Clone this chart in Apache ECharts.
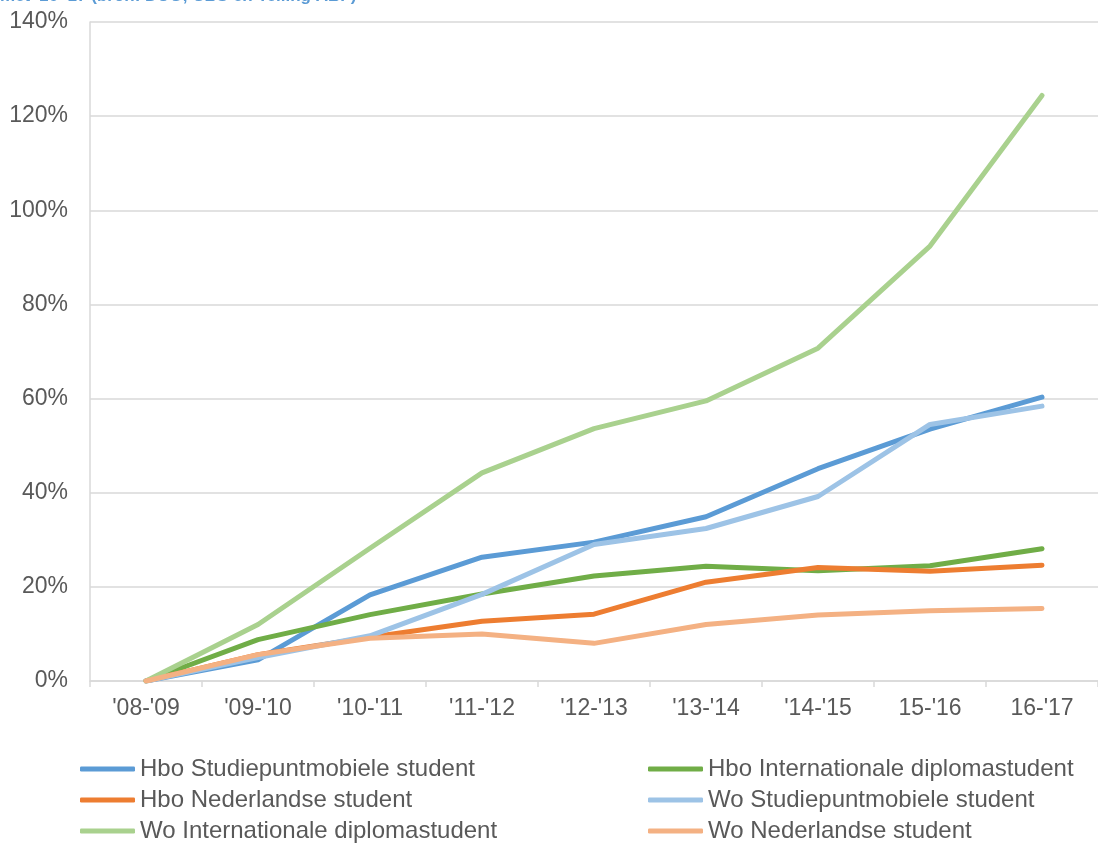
<!DOCTYPE html>
<html>
<head>
<meta charset="utf-8">
<script src="https://cdn.jsdelivr.net/npm/echarts@6/dist/echarts.min.js"></script>
<style>
html,body{margin:0;padding:0;background:#fff;}
#chart{width:1098px;height:843px;}
</style>
</head>
<body>
<div id="chart"></div>
<script>
const categories = ["'08-'09", "'09-'10", "'10-'11", "'11-'12", "'12-'13", "'13-'14", "'14-'15", "15-'16", "16-'17"];
const hboStudiepunt = [0, 4.5, 18.3, 26.3, 29.5, 34.9, 45.1, 53.5, 60.3];
const hboInternationaal = [0, 8.8, 14.1, 18.5, 22.3, 24.4, 23.4, 24.5, 28.1];
const hboNederlands = [0, 5.6, 9.3, 12.7, 14.2, 21.0, 24.1, 23.3, 24.6];
const woStudiepunt = [0, 5.0, 9.6, 18.4, 29.0, 32.4, 39.2, 54.5, 58.4];
const woInternationaal = [0, 12.0, 28.2, 44.2, 53.6, 59.5, 70.7, 92.4, 124.4];
const woNederlands = [0, 5.6, 9.1, 10.0, 8.0, 12.0, 14.0, 14.9, 15.4];
const yTicks = [0, 20, 40, 60, 80, 100, 120, 140];

const names = ['Hbo Studiepuntmobiele student', 'Hbo Internationale diplomastudent', 'Hbo Nederlandse student',
  'Wo Studiepuntmobiele student', 'Wo Internationale diplomastudent', 'Wo Nederlandse student'];
const colors = ['#5B9BD5', '#70AD47', '#ED7D31', '#9DC3E6', '#A9D18E', '#F4B183'];
const datasets = [hboStudiepunt, hboInternationaal, hboNederlands, woStudiepunt, woInternationaal, woNederlands];

const font = 'Liberation Sans, Arial, sans-serif';
const chart = echarts.init(document.getElementById('chart'), null, {renderer: 'canvas'});
const legendCommon = {
  orient: 'vertical', itemWidth: 55, itemHeight: 5, itemGap: 7, icon: 'roundRect',
  height: 120, padding: 0,
  textStyle: {fontFamily: font, fontSize: 24, color: '#595959', lineHeight: 24},
  selectedMode: false
};
chart.setOption({
  animation: false,
  color: colors,
  title: {
    text: "met '16-'17 (bron: DUO, CBS en Telling ABF)",
    left: 0, top: -12, padding: 0,
    textStyle: {fontFamily: font, fontSize: 17, fontWeight: 'bold', color: '#5B9BD5'}
  },
  legend: [
    Object.assign({left: 80, top: 757, data: [names[0], names[2], names[4]]}, legendCommon),
    Object.assign({left: 648, top: 757, data: [names[1], names[3], names[5]]}, legendCommon)
  ],
  grid: {left: 90, top: 22, width: 1012.5, height: 659, containLabel: false},
  xAxis: {
    type: 'category', data: categories, boundaryGap: true,
    axisLine: {lineStyle: {color: '#D9D9D9', width: 1.5}},
    axisTick: {show: true, length: 6, lineStyle: {color: '#D9D9D9', width: 1.5}},
    axisLabel: {fontFamily: font, fontSize: 23, color: '#595959', margin: 16}
  },
  yAxis: {
    type: 'value', min: 0, max: 140, interval: 20,
    axisLine: {show: true, lineStyle: {color: '#D9D9D9', width: 1.5}},
    axisTick: {show: false},
    splitLine: {lineStyle: {color: '#D9D9D9', width: 1.5}},
    axisLabel: {fontFamily: font, fontSize: 23, color: '#595959', margin: 22,
      formatter: v => yTicks.includes(v) ? v + '%' : ''}
  },
  series: datasets.map((d, i) => ({
    name: names[i], type: 'line', data: d, symbol: 'none', smooth: false,
    lineStyle: {width: 5, color: colors[i], cap: 'round', join: 'round'},
    itemStyle: {color: colors[i]}
  }))
});
</script>
</body>
</html>
